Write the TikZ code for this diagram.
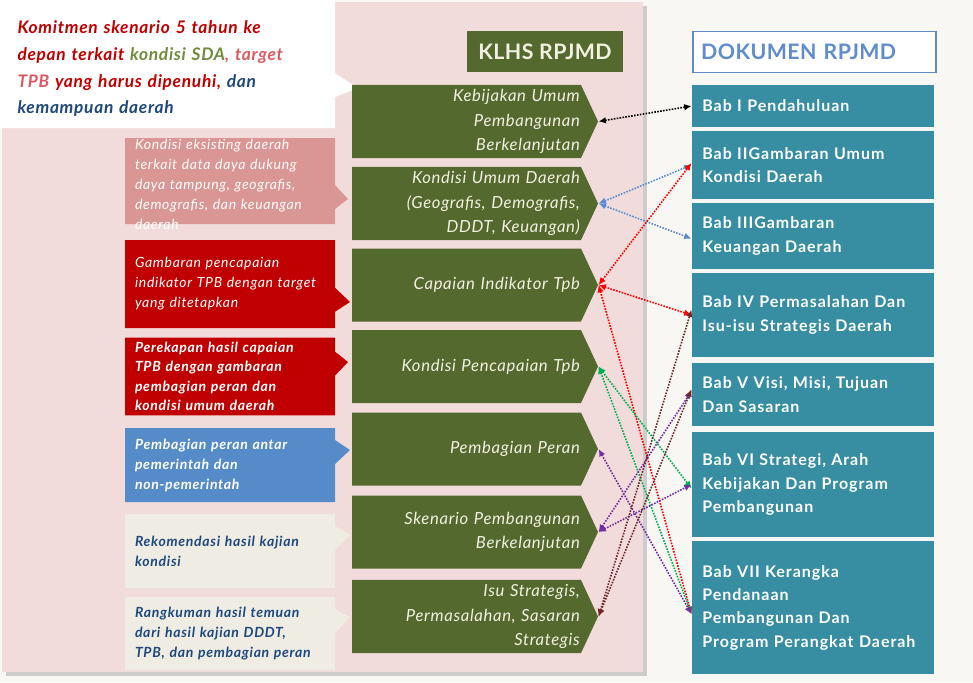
\documentclass[tikz,border=0pt]{standalone}
\usepackage{fontspec}
\setmainfont{Lato}
\usetikzlibrary{shapes.symbols,shapes.callouts,arrows.meta}

\definecolor{panelpink}{RGB}{242,220,219}
\definecolor{backwhite}{RGB}{248,247,243}
\definecolor{klhsgreen}{RGB}{84,105,46}
\definecolor{babteal}{RGB}{55,141,162}
\definecolor{creamtext}{RGB}{242,240,225}
\definecolor{darkred}{RGB}{192,0,0}
\definecolor{palered}{RGB}{218,150,148}
\definecolor{roleblue}{RGB}{85,139,200}
\definecolor{tanbox}{RGB}{239,236,228}
\definecolor{navytext}{RGB}{31,73,125}
\definecolor{headblue}{RGB}{96,140,205}
\definecolor{sdagreen}{RGB}{110,140,60}
\definecolor{tpbpink}{RGB}{220,90,95}
\definecolor{linkblue}{RGB}{90,140,210}
\definecolor{linkgreen}{RGB}{0,176,80}
\definecolor{linkpurple}{RGB}{112,48,160}
\definecolor{linkmaroon}{RGB}{110,40,40}

\tikzset{every picture/.style={line width=0.75pt}}

\begin{document}
\begin{tikzpicture}[x=0.75pt,y=0.75pt,yscale=-1,xscale=1,
  chev/.style={signal, signal to=east, signal pointer angle=130, fill=klhsgreen, text=creamtext,
    minimum width=184.5pt, minimum height=54.75pt, text width=170pt, inner xsep=0pt, align=right,
    font=\fontsize{12.5}{18.4}\selectfont\itshape\addfontfeature{LetterSpace=4}},
  lbox/.style={rectangle callout, callout pointer width=18pt, minimum width=157.5pt,
    text width=142.5pt, inner xsep=7.5pt, align=left,
    font=\fontsize{10.5}{15}\selectfont\itshape\addfontfeature{LetterSpace=5}},
  ltext/.style={font=\fontsize{10.5}{15}\selectfont\bfseries\itshape\addfontfeature{LetterSpace=5}},
  rbox/.style={fill=babteal, text=white, minimum width=181.5pt, text width=166pt, inner xsep=7.75pt,
    align=left, font=\fontsize{12}{17.5}\selectfont\bfseries\addfontfeature{LetterSpace=6}},
  head/.style={minimum height=30.75pt, font=\fontsize{16}{18}\selectfont\bfseries\addfontfeature{LetterSpace=2}},
  link/.style={densely dotted, line width=1.2pt, {Latex[length=5.5pt,width=5pt]}-{Latex[length=5.5pt,width=5pt]}}]
\useasboundingbox (0,0) rectangle (973,682);

%Background
\fill [backwhite] (0,0) rectangle (973,682);
\fill [black!20] (6,6) rectangle (647,676);
\fill [panelpink] (2,2) rectangle (643,672);

%Callout: commitment
\node [rectangle callout, fill=white, callout absolute pointer={(358,88)}, callout pointer width=18pt,
  minimum width=251.25pt, minimum height=96pt] (komit) at (167.5,64) {};
\node [text width=228.75pt, align=left, font=\fontsize{13}{20}\selectfont\bfseries\itshape\addfontfeature{LetterSpace=4}]
  (komittxt) at (170,69)
  {\color{darkred}Komitmen skenario 5 tahun ke\\ depan terkait \color{sdagreen}kondisi SDA\color{tpbpink}, target\\
   TPB \color{darkred}yang harus dipenuhi, \color{navytext}dan\\ kemampuan daerah};

%Headers
\node [head, fill=klhsgreen, text=creamtext, minimum width=117pt] (klhs) at (545,51.5) {KLHS RPJMD};
\node [head, fill=white, draw=headblue, line width=1.4pt, text width=170pt, inner xsep=6pt, align=left,
  text=headblue] (dok) at (814.5,52) {DOKUMEN RPJMD};

%Left callouts
\node [lbox, fill=palered, minimum height=64.5pt, callout absolute pointer={(348,199)}] (l1) at (230,181) {};
\node [text width=142.5pt, align=left, text=white, font=\fontsize{10.5}{15}\selectfont\itshape\addfontfeature{LetterSpace=5}]
  (l1txt) at (230,184)
  {Kondisi eksisting daerah\\ terkait data daya dukung\\ daya tampung, geografis,\\ demografis, dan keuangan\\ daerah};
\node [lbox, fill=darkred, text=white, minimum height=66pt, callout absolute pointer={(350,302)}] (l2) at (230,284)
  {Gambaran pencapaian\\ indikator TPB dengan target\\ yang ditetapkan};
\node [lbox, ltext, fill=darkred, text=white, minimum height=54.75pt, callout absolute pointer={(348,362)},
  font=\fontsize{10.5}{14.6}\selectfont\bfseries\itshape\addfontfeature{LetterSpace=5}] (l3) at (230,376.5)
  {Perekapan hasil capaian\\ TPB dengan gambaran\\ pembagian peran dan\\ kondisi umum daerah};
\node [lbox, ltext, fill=roleblue, text=white, minimum height=55.5pt, callout absolute pointer={(350,450)}] (l4) at (230,465)
  {Pembagian peran antar\\ pemerintah dan\\ non-pemerintah};
\node [lbox, ltext, fill=tanbox, text=navytext, minimum height=55.5pt, callout absolute pointer={(350,535)}] (l5) at (230,551)
  {Rekomendasi hasil kajian\\ kondisi};
\node [lbox, ltext, fill=tanbox, text=navytext, minimum height=54.75pt, callout absolute pointer={(350,617)}] (l6) at (230,633.5)
  {Rangkuman hasil temuan\\ dari hasil kajian DDDT,\\ TPB, dan pembagian peran};

%KLHS chevrons
\node [chev] (k1) at (466.5,121.5) {Kebijakan Umum\\ Pembangunan\\ Berkelanjutan};
\node [chev] (k2) at (466.5,203.5) {Kondisi Umum Daerah\\ (Geografis, Demografis,\\ DDDT, Keuangan)};
\node [chev] (k3) at (466.5,285) {Capaian Indikator Tpb};
\node [chev] (k4) at (466.5,366.5) {Kondisi Pencapaian Tpb};
\node [chev] (k5) at (466.5,449) {Pembagian Peran};
\node [chev] (k6) at (466.5,532) {Skenario Pembangunan\\ Berkelanjutan};
\node [chev] (k7) at (466.5,616.5) {Isu Strategis,\\ Permasalahan, Sasaran\\ Strategis};

%RPJMD chapters
\node [rbox, minimum height=31.5pt] (b1) at (813,106) {Bab I Pendahuluan};
\node [rbox, minimum height=51pt] (b2) at (813,165) {Bab IIGambaran Umum\\ Kondisi Daerah};
\node [rbox, minimum height=49.5pt] (b3) at (813,236) {Bab IIIGambaran\\ Keuangan Daerah};
\node [rbox, minimum height=63pt] (b4) at (813,315) {Bab IV Permasalahan Dan\\ Isu-isu Strategis Daerah};
\node [rbox, minimum height=47.25pt] (b5) at (813,394.5) {Bab V Visi, Misi, Tujuan\\ Dan Sasaran};
\node [rbox, minimum height=78.75pt] (b6) at (813,484.5) {Bab VI Strategi, Arah\\ Kebijakan Dan Program\\ Pembangunan};
\node [rbox, minimum height=99.75pt] (b7) at (813,607.5) {Bab VII Kerangka\\ Pendanaan\\ Pembangunan Dan\\ Program Perangkat Daerah};

%Links
\draw [link, black] (k1.east) -- (b1.west);
\draw [link, linkblue] (k2.east) -- (b2.west);
\draw [link, linkblue] (k2.east) -- ([yshift=2pt]b3.west);
\draw [link, red] (k3.east) -- ([yshift=-1.5pt]b2.west);
\draw [link, red] (k3.east) -- (b4.west);
\draw [link, red] (k3.east) -- ([yshift=5pt]b7.west);
\draw [link, linkgreen] (k4.east) -- ([yshift=3pt]b6.west);
\draw [link, linkgreen] (k4.east) -- ([yshift=5pt]b7.west);
\draw [link, linkpurple] (k5.east) -- ([yshift=5pt]b7.west);
\draw [link, linkpurple] (k6.east) -- ([yshift=-2.5pt]b5.west);
\draw [link, linkpurple] (k6.east) -- (b6.west);
\draw [link, linkmaroon] (k7.east) -- ([yshift=-4pt]b4.west);
\draw [link, linkmaroon] (k7.east) -- ([yshift=-4pt]b5.west);

\end{tikzpicture}
\end{document}
